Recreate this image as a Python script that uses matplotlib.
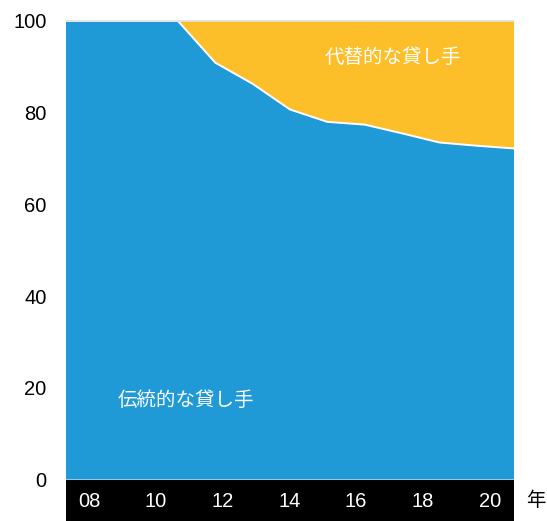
import matplotlib
matplotlib.use("Agg")
import matplotlib.pyplot as plt
import numpy as np

plt.rcParams['font.family'] = ['Liberation Sans', 'Noto Sans CJK JP']

# データ（2008〜2020年, %）
years = np.arange(2008, 2021)
traditional = [100, 100, 100, 100, 90.9, 86.3, 80.7, 78.0, 77.4, 75.5, 73.5, 72.8, 72.2]
alternative = [100 - v for v in traditional]
tick_labels = ['08', '10', '12', '14', '16', '18', '20']
y_ticks = [0, 20, 40, 60, 80, 100]

blue = '#1f9ad6'
orange = '#fdbf29'

fig = plt.figure(figsize=(5.47, 5.21), dpi=100)
ax = fig.add_axes([66 / 547, 1 - 479.5 / 521, 448 / 547, 458.5 / 521])
x = np.arange(len(years))
ax.stackplot(x, traditional, alternative, colors=[blue, orange], linewidth=0)
ax.plot(x, traditional, color='white', lw=1.4)
ax.set_xlim(0, len(years) - 1)
ax.set_ylim(0, 100)
ax.set_xticks([])
ax.set_yticks(y_ticks)
ax.tick_params(axis='y', length=0, labelsize=14.5, pad=14)
for s in ['left', 'right', 'bottom']:
    ax.spines[s].set_visible(False)
ax.spines['top'].set_color('#e0e0e0')
ax.spines['top'].set_linewidth(1.2)

ax.text(8.76, 91.9, '代替的な貸し手', color='white', fontsize=14, ha='center', va='center')
ax.text(1.37, 17.3, '伝統的な貸し手', color='white', fontsize=14, ha='left', va='center')

# 下の黒い帯
bar = fig.add_axes([66 / 547, 0, 448 / 547, 41.5 / 521])
bar.set_facecolor('black')
bar.set_xlim(0, len(years) - 1)
bar.set_ylim(0, 1)
bar.set_xticks([])
bar.set_yticks([])
for s in bar.spines.values():
    s.set_visible(False)
pos = 0.616 + np.arange(len(tick_labels)) * 1.789
for p, lab in zip(pos, tick_labels):
    bar.text(p, 0.47, lab, color='white', fontsize=14.5, ha='center', va='center')
fig.text(536 / 547, 1 - 501 / 521, '年', fontsize=14, ha='center', va='center')

fig.savefig('out.png', dpi=100)
